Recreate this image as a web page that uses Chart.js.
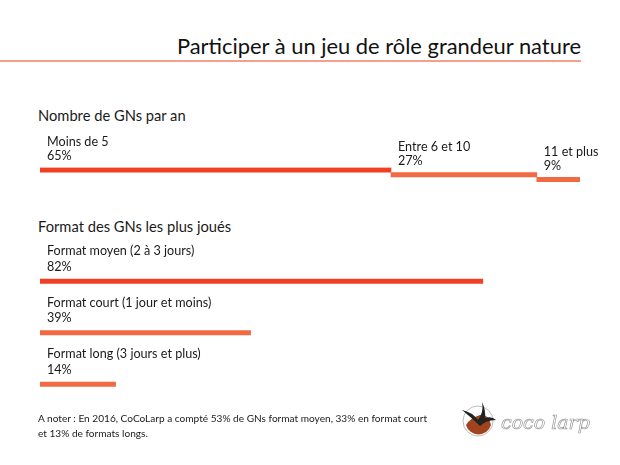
<!DOCTYPE html>
<html lang="fr">
<head>
<meta charset="utf-8">
<script src="https://cdn.jsdelivr.net/npm/chart.js"></script>
<style>
  html, body { margin: 0; padding: 0; background: #fff; }
  #page { position: relative; width: 620px; height: 465px; overflow: hidden; font-family: Lato, "Open Sans", sans-serif; color: #1a1a1a; }
  #title { position: absolute; right: 39px; top: 33px; font-size: 21.9px; line-height: 26px; white-space: nowrap; color: #111; }
  #rule { position: absolute; left: 0; top: 60px; width: 581px; height: 1.5px; background: #f5a08c; }
  .heading { position: absolute; left: 38px; font-size: 14.7px; line-height: 18px; white-space: nowrap; }
  #h1 { top: 106px; }
  #h2 { top: 217px; }
  #note { position: absolute; left: 38px; top: 411px; font-size: 10.1px; line-height: 14.5px; white-space: nowrap; }
  canvas { position: absolute; left: 0; }
  #years { top: 120px; }
  #formats { top: 215px; }
  #logo { position: absolute; left: 458px; top: 398px; }
</style>
</head>
<body>
<div id="page">
  <div id="title">Participer à un jeu de rôle grandeur nature</div>
  <div id="rule"></div>
  <div class="heading" id="h1">Nombre de GNs par an</div>
  <div class="heading" id="h2">Format des GNs les plus joués</div>
  <canvas id="years" width="620" height="70"></canvas>
  <canvas id="formats" width="620" height="200"></canvas>
  <div id="note">A noter : En 2016, CoCoLarp a compté 53% de GNs format moyen, 33% en format court<br>et 13% de formats longs.</div>
  <svg id="logo" width="150" height="50" viewBox="0 0 150 50">
    <circle cx="20" cy="23" r="15" fill="#fff" stroke="#bbb" stroke-width="1"/>
    <path d="M8 27 A13 13 0 0 0 33 27 Q30 15 22 17 Q12 20 8 27 Z" fill="#a0441f"/>
    <path d="M4 12 Q14 14 20 22 Q26 14 24 4 Q28 12 27 20 Q34 18 38 22 Q28 22 22 28 Q16 22 4 12 Z" fill="#222"/>
    <text x="43" y="31" font-family="DejaVu Serif" font-style="italic" font-size="19" fill="#fff" stroke="#999" stroke-width="0.7">coco larp</text>
  </svg>
</div>

<script>
///////////   DATA  /////////////////

const yearCategories = ["Moins de 5", "Entre 6 et 10", "11 et plus"];
const yearValues = [65, 27, 9];

const formatCategories = ["Format moyen (2 à 3 jours)", "Format court (1 jour et moins)", "Format long (3 jours et plus)"];
const formatValues = [82, 39, 14];

const barColors = ["#f04023", "#f26a44", "#f26a44"];

///////////   LABELS PLUGIN  /////////////////

// writes category name + percentage above the start of each bar
const barLabels = {
  id: "barLabels",
  afterDatasetsDraw(chart, args, opts) {
    const ctx = chart.ctx;
    const bars = chart.getDatasetMeta(0).data;
    ctx.save();
    ctx.fillStyle = "#1a1a1a";
    ctx.textBaseline = "middle";
    ctx.font = "12.6px Lato, sans-serif";
    bars.forEach((bar, i) => {
      const left = Math.min(bar.base, bar.x) + 7;
      ctx.fillText(chart.data.labels[i], left, bar.y - opts.nameOffset);
      ctx.fillText(opts.values[i] + "%", left, bar.y - opts.valueOffset);
    });
    ctx.restore();
  }
};

function baseOptions(values, padTop, padBottom, nameOffset, valueOffset) {
  return {
    indexAxis: "y",
    responsive: false,
    animation: false,
    layout: { padding: { left: 40, right: 40, top: padTop, bottom: padBottom } },
    scales: {
      x: { type: "linear", min: 0, max: 100, display: false },
      y: { type: "category", display: false }
    },
    plugins: {
      legend: { display: false },
      tooltip: { enabled: false },
      barLabels: { values: values, nameOffset: nameOffset, valueOffset: valueOffset }
    }
  };
}

////////////// YEARS : staircase of floating bars /////////////

let running = 0;
const yearRanges = yearValues.map(v => {
  const seg = [running, running + v];
  running += v;
  return seg;
});

new Chart(document.querySelector("#years"), {
  type: "bar",
  data: {
    labels: yearCategories,
    datasets: [{
      data: yearRanges,
      backgroundColor: barColors,
      borderWidth: 0,
      borderSkipped: false,
      barThickness: 4.5
    }]
  },
  options: baseOptions(yearValues, 47.5, 8, 28, 13.5),
  plugins: [barLabels]
});

////////////// FORMATS /////////////

new Chart(document.querySelector("#formats"), {
  type: "bar",
  data: {
    labels: formatCategories,
    datasets: [{
      data: formatValues,
      backgroundColor: barColors,
      borderWidth: 0,
      barThickness: 4.5
    }]
  },
  options: baseOptions(formatValues, 40.5, 5, 30, 14.5),
  plugins: [barLabels]
});
</script>
</body>
</html>
